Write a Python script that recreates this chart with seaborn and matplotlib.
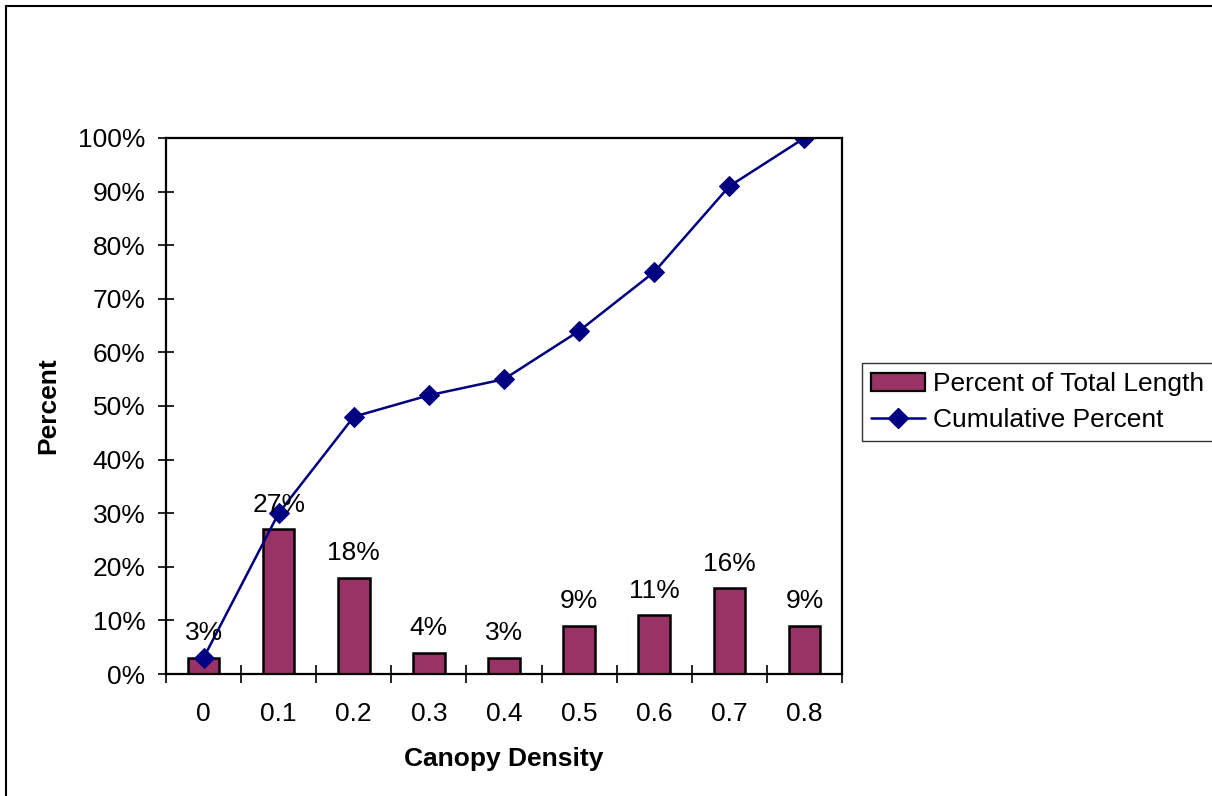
import numpy as np
import pandas as pd
import matplotlib
matplotlib.use("Agg")
import matplotlib.pyplot as plt
from matplotlib.patches import Rectangle, Patch
from matplotlib.lines import Line2D
from matplotlib.ticker import FuncFormatter, FixedLocator
import seaborn as sns

# Canopy density classes and their share of total length (%)
density = ["0", "0.1", "0.2", "0.3", "0.4", "0.5", "0.6", "0.7", "0.8"]
pct_length = [3, 27, 18, 4, 3, 9, 11, 16, 9]
cum_pct = [3, 30, 48, 52, 55, 64, 75, 91, 100]

bar_color = "#993366"
line_color = "#000080"
fs = 19

sns.set_theme(style="white")
plt.rcParams["font.family"] = ["Liberation Sans", "DejaVu Sans"]
plt.rcParams.update({"text.color": "black", "axes.labelcolor": "black",
                     "xtick.color": "black", "ytick.color": "black"})

fig = plt.figure(figsize=(12.12, 7.96), dpi=100)
ax = fig.add_axes([166 / 1212, 1 - 674 / 796, (842 - 166) / 1212, (674 - 138) / 796])

df = pd.DataFrame({"density": density, "pct": pct_length, "cum": cum_pct})

sns.barplot(data=df, x="density", y="pct", color=bar_color, saturation=1,
            width=0.42, edgecolor="black", linewidth=1.8, ax=ax)
sns.lineplot(x=np.arange(len(density)), y=df["cum"], color=line_color,
             marker="D", markersize=10.5, markeredgecolor=line_color,
             linewidth=1.8, ax=ax)

# value labels above the bars
for i, v in enumerate(pct_length):
    ax.annotate(f"{v}%", (i, v), xytext=(0, 9), textcoords="offset points",
                ha="center", va="bottom", fontsize=fs, color="black")

ax.set_xlim(-0.5, len(density) - 0.5)
ax.set_ylim(0, 100)
ax.set_yticks(np.arange(0, 101, 10))
ax.yaxis.set_major_formatter(FuncFormatter(lambda v, _: f"{v:.0f}%"))
ax.tick_params(axis="y", direction="inout", length=11.5, width=1.2,
               color="black", labelsize=fs, pad=9, left=True)
ax.tick_params(axis="x", which="major", length=0, labelsize=fs, pad=20)
ax.xaxis.set_minor_locator(FixedLocator(np.arange(-0.5, len(density), 1.0)))
ax.tick_params(axis="x", which="minor", direction="inout", length=13,
               width=1.2, color="black", bottom=True)

for side in ["left", "bottom", "top", "right"]:
    ax.spines[side].set_visible(True)
    ax.spines[side].set_color("black")
    ax.spines[side].set_linewidth(1.6)

ax.set_xlabel("Canopy Density", fontsize=fs, fontweight="bold", labelpad=15)
ax.set_ylabel("Percent", fontsize=fs, fontweight="bold", labelpad=13)

handles = [
    Patch(facecolor=bar_color, edgecolor="black", linewidth=1.6),
    Line2D([0], [0], color=line_color, marker="D", markersize=10.5, linewidth=1.8),
]
leg = fig.legend(handles, ["Percent of Total Length", "Cumulative Percent"],
                 loc="upper left", bbox_to_anchor=(862 / 1212, 1 - 363 / 796),
                 fontsize=fs, frameon=True, fancybox=False, handlelength=2.05,
                 handletextpad=0.3, borderpad=0.35, labelspacing=0.45,
                 borderaxespad=0)
leg.get_frame().set_edgecolor("black")
leg.get_frame().set_linewidth(1.0)

# outer chart border
fig.patches.append(Rectangle((6 / 1212, -0.1), 1.2, 1 - 6 / 796 + 0.1,
                             transform=fig.transFigure, fill=False,
                             edgecolor="black", linewidth=1.5))

fig.savefig("out.png", dpi=100)
